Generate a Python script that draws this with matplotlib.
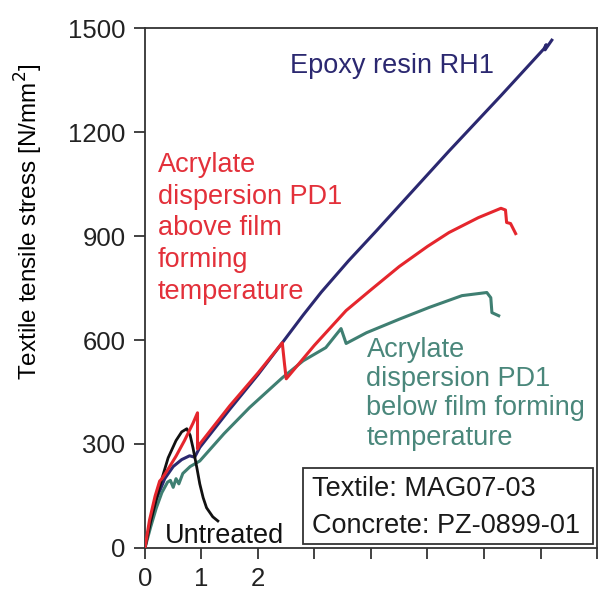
import matplotlib
matplotlib.use("Agg")
import matplotlib.pyplot as plt
from matplotlib.patches import Rectangle

plt.rcParams["font.family"] = ["Liberation Sans", "DejaVu Sans"]

# strain (x) / textile tensile stress (y)
epoxy_x = [0, 0.1, 0.2, 0.35, 0.5, 0.65, 0.79, 0.88, 0.97, 1.5, 2.0, 2.43, 2.8, 3.12, 3.6, 4.09, 5.38, 6.3, 7.06, 7.1, 7.08, 7.2]
epoxy_y = [0, 80, 140, 200, 235, 255, 266, 262, 290, 400, 500, 592, 672, 738, 828, 914, 1145, 1305, 1440, 1452, 1437, 1465]

above_x = [0, 0.08, 0.18, 0.26, 0.3, 0.4, 0.55, 0.7, 0.85, 0.93, 0.93, 0.97, 1.5, 2.0, 2.43, 2.47, 2.5, 3.0, 3.56, 4.0, 4.5, 5.0, 5.38, 5.9, 6.3, 6.38, 6.4, 6.47, 6.56]
above_y = [0, 80, 150, 193, 200, 225, 265, 310, 360, 390, 286, 300, 410, 505, 592, 530, 488, 585, 685, 745, 812, 870, 910, 953, 980, 975, 939, 936, 907]

below_x = [0, 0.1, 0.2, 0.3, 0.4, 0.45, 0.5, 0.55, 0.6, 0.67, 0.8, 0.97, 1.4, 1.85, 2.43, 2.8, 3.2, 3.47, 3.56, 3.92, 4.5, 5.03, 5.61, 6.05, 6.12, 6.14, 6.26]
below_y = [0, 60, 115, 160, 190, 195, 175, 200, 185, 215, 235, 251, 330, 405, 491, 540, 578, 633, 590, 621, 660, 694, 728, 737, 722, 679, 670]

untreated_x = [0, 0.1, 0.2, 0.3, 0.41, 0.55, 0.65, 0.74, 0.8, 0.85, 0.92, 0.97, 1.03, 1.09, 1.2, 1.29]
untreated_y = [0, 75, 140, 200, 260, 310, 335, 344, 325, 289, 230, 185, 145, 116, 90, 78]

x_ticks = [0, 1, 2, 3, 4, 5, 6, 7, 8]
x_labels = ["0", "1", "2", "", "", "", "", "", ""]
y_ticks = [0, 300, 600, 900, 1200, 1500]

navy = "#2b2870"
red = "#e5262d"
green = "#3f7f72"

fig = plt.figure(figsize=(5.99, 5.90), dpi=100)
ax = fig.add_axes([0.242, 0.0712, 0.7547, 0.8813])

ax.plot(epoxy_x, epoxy_y, color=navy, lw=2.2, zorder=2)
ax.plot(below_x, below_y, color=green, lw=2.2, zorder=3)
ax.plot(untreated_x, untreated_y, color="#111111", lw=2.0, zorder=3)
ax.plot(above_x, above_y, color=red, lw=2.2, zorder=4)

ax.text(2.56, 1370, "Epoxy resin RH1", color=navy, fontsize=19.5, va="baseline")
ax.text(0.23, 1143, "Acrylate\ndispersion PD1\nabove film\nforming\ntemperature",
        color="#e3303a", fontsize=19.5, va="top", linespacing=1.29)
ax.text(3.92, 610, "Acrylate\ndispersion PD1\nbelow film forming\ntemperature",
        color="#4a877b", fontsize=19.5, va="top", linespacing=1.17)
ax.text(0.35, 14, "Untreated", color="#111111", fontsize=19.5, va="baseline")

# specimen info box
ax.add_patch(Rectangle((0.3496, 0.0077), 0.6414, 0.1463, transform=ax.transAxes,
                       fc="white", ec="#333333", lw=1.3, zorder=5))
ax.text(2.96, 150, "Textile: MAG07-03", color="#1a1a1a", fontsize=19.5, va="baseline", zorder=6)
ax.text(2.96, 43, "Concrete: PZ-0899-01", color="#1a1a1a", fontsize=19.5, va="baseline", zorder=6)

ax.set_xlim(0, 8)
ax.set_ylim(0, 1500)
ax.set_xticks(x_ticks)
ax.set_xticklabels(x_labels)
ax.set_yticks(y_ticks)
ax.tick_params(direction="out", length=8, width=1.2, pad=6, labelsize=18.5, colors="#222222")
for s in ax.spines.values():
    s.set_linewidth(1.3)
    s.set_color("#333333")

ax.set_ylabel("Textile tensile stress [N/mm$^2$]", fontsize=17.5)
ax.yaxis.set_label_coords(-0.222, 0.628)

fig.savefig("out.png", dpi=100)
